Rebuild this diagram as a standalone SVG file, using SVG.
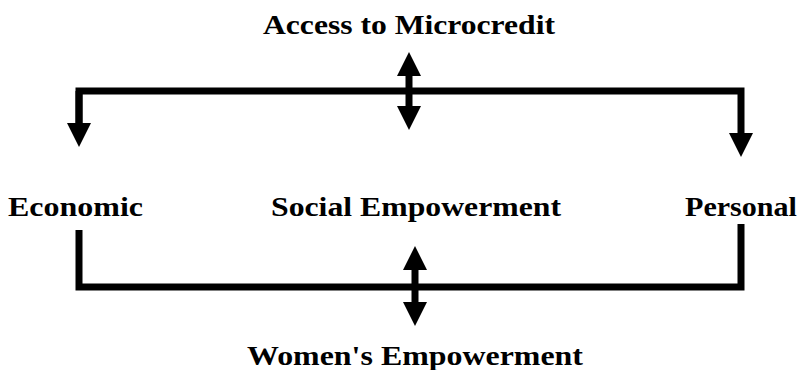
<svg xmlns="http://www.w3.org/2000/svg" width="802" height="370" viewBox="0 0 802 370">
<style>
  .lbl { font-family: "Liberation Serif", "Times New Roman", serif; font-weight: bold; font-size: 27px; fill: #000; }
  .ln { fill: none; stroke: #000; stroke-width: 7; stroke-linejoin: miter; stroke-linecap: butt; }
</style>
<defs>
  <marker id="ah" markerUnits="userSpaceOnUse" markerWidth="26" markerHeight="26" refX="1" refY="12" orient="auto-start-reverse" overflow="visible">
    <path d="M0,0 L24,12 L0,24 z" fill="#000"/>
  </marker>
</defs>
<rect width="802" height="370" fill="#fff"/>
<g id="connectors">
  <path class="ln" d="M79,124 V91 H741 V134" marker-end="url(#ah)"/>
  <path class="ln" d="M79,124 V91" marker-start="url(#ah)"/>
  <path class="ln" d="M409,75 V107" marker-start="url(#ah)" marker-end="url(#ah)"/>
  <path class="ln" d="M79,230 V287 H741 V224"/>
  <path class="ln" d="M415,269 V303" marker-start="url(#ah)" marker-end="url(#ah)"/>
</g>
<g id="access">
  <text class="lbl" x="263" y="34" textLength="292" lengthAdjust="spacingAndGlyphs">Access to Microcredit</text>
</g>
<g id="economic">
  <text class="lbl" x="8" y="216" textLength="135" lengthAdjust="spacingAndGlyphs">Economic</text>
</g>
<g id="social">
  <text class="lbl" x="271" y="216" textLength="290" lengthAdjust="spacingAndGlyphs">Social Empowerment</text>
</g>
<g id="personal">
  <text class="lbl" x="685" y="216" textLength="112" lengthAdjust="spacingAndGlyphs">Personal</text>
</g>
<g id="women">
  <text class="lbl" x="247" y="365" textLength="336" lengthAdjust="spacingAndGlyphs">Women's Empowerment</text>
</g>
</svg>
